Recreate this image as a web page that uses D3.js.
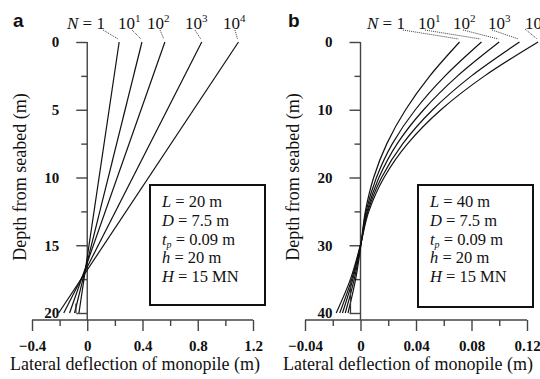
<!DOCTYPE html>
<html><head><meta charset="utf-8">
<script src="https://cdn.jsdelivr.net/npm/d3@7"></script>
<style>body{margin:0;background:#fff}svg{display:block}</style>
</head><body>
<script>
// ---------- data ----------
const cycleLabels = ["1", "1", "2", "3", "4"];          // exponent of 10 (first is "N = 1")
// Panel a (L = 20 m): rigid rotation, deflection at depth 0 and 20 m
const depthA = [0, 20];
const deflA = [
  [0.231, -0.060],
  [0.396, -0.092],
  [0.562, -0.128],
  [0.829, -0.170],
  [1.095, -0.207]
];
// Panel b (L = 40 m): flexible pile
const depthB = [0, 5, 10, 15, 20, 25, 30, 35, 40];
const deflB = [
  [0.0714, 0.0500, 0.0325, 0.0190, 0.0095, 0.0035, 0.0003, -0.0035, -0.0090],
  [0.0872, 0.0610, 0.0395, 0.0230, 0.0115, 0.0040, 0.0002, -0.0045, -0.0110],
  [0.1000, 0.0700, 0.0455, 0.0265, 0.0133, 0.0047, 0.0001, -0.0055, -0.0130],
  [0.1146, 0.0800, 0.0520, 0.0305, 0.0152, 0.0053, 0.0000, -0.0063, -0.0150],
  [0.1280, 0.0895, 0.0580, 0.0340, 0.0170, 0.0060, -0.0001, -0.0072, -0.0175]
];
// short vertical toe marks [deflection, depth from, depth to]
const toeA = [-0.082, 19.3, 20];
const toeB = [-0.0072, 35, 40];
const xTicksA = [-0.4, 0, 0.4, 0.8, 1.2];
const xMinorA = [-0.2, 0.2, 0.6, 1.0];
const yTicksA = [0, 5, 10, 15, 20];
const yMinorA = [2.5, 7.5, 12.5, 17.5];
const xTicksB = [-0.04, 0, 0.04, 0.08, 0.12];
const xMinorB = [-0.02, 0.02, 0.06, 0.10];
const yTicksB = [0, 10, 20, 30, 40];
const yMinorB = [5, 15, 25, 35];
const legendA = [["L"," = 20 m"],["D"," = 7.5 m"],["t"," = 0.09 m","p"],["h"," = 20 m"],["H"," = 15 MN"]];
const legendB = [["L"," = 40 m"],["D"," = 7.5 m"],["t"," = 0.09 m","p"],["h"," = 20 m"],["H"," = 15 MN"]];

// ---------- drawing ----------
const W = 540, H = 379;
const SERIF = "'Liberation Serif','Times New Roman',Times,serif";
const svg = d3.select("body").append("svg").attr("width", W).attr("height", H)
  .style("font-family", SERIF);

const AXIS_Y = 320;

function panel(cfg) {
  const x = d3.scaleLinear().domain(cfg.xDom).range(cfg.xRange);
  const y = d3.scaleLinear().domain(cfg.yDom).range([42, 313]);
  const g = svg.append("g");
  const x0 = x(0);

  // x axis
  const fmt = d => d === 0 ? "0" : d3.format("")(d);
  const gx = g.append("g").attr("transform", `translate(0,${AXIS_Y})`);
  gx.call(d3.axisBottom(x).tickValues(cfg.xMinor).tickSize(6).tickSizeOuter(0).tickFormat(""));
  gx.select(".domain").remove();
  const gx2 = g.append("g").attr("transform", `translate(0,${AXIS_Y})`);
  gx2.call(d3.axisBottom(x).tickValues(cfg.xTicks).tickSize(11).tickPadding(9).tickSizeOuter(0).tickFormat(fmt));
  gx2.select(".domain").remove();
  g.append("line").attr("x1", x(cfg.xDom[0])).attr("x2", x(cfg.xDom[1]))
    .attr("y1", AXIS_Y).attr("y2", AXIS_Y).attr("stroke", "#444").attr("stroke-width", 1.4);

  // y axis at x = 0
  const gy = g.append("g").attr("transform", `translate(${x0},0)`);
  gy.call(d3.axisLeft(y).tickValues(cfg.yMinor).tickSize(6).tickSizeOuter(0).tickFormat(""));
  gy.select(".domain").remove();
  const gy2 = g.append("g").attr("transform", `translate(${x0},0)`);
  gy2.call(d3.axisLeft(y).tickValues(cfg.yTicks).tickSize(11).tickPadding(17).tickSizeOuter(0));
  gy2.select(".domain").remove();
  g.append("line").attr("x1", x0).attr("x2", x0).attr("y1", y(cfg.yDom[0])).attr("y2", AXIS_Y)
    .attr("stroke", "#444").attr("stroke-width", 1.4);

  g.selectAll("g").attr("font-family", SERIF);
  g.selectAll(".tick line").attr("stroke", "#444").attr("stroke-width", 1.4);
  g.selectAll(".tick text").attr("font-family", SERIF)
    .attr("font-weight", "bold").attr("font-size", 15).attr("fill", "#111");

  // curves
  const line = d3.line().x(d => x(d[0])).y(d => y(d[1])).curve(cfg.curve);
  cfg.defl.forEach(row => {
    const pts = row.map((v, i) => [v, cfg.depth[i]]);
    g.append("path").attr("d", line(pts)).attr("fill", "none")
      .attr("stroke", "#111").attr("stroke-width", 1.2);
  });
  // toe mark
  const tm = cfg.toe;
  g.append("line").attr("x1", x(tm[0])).attr("x2", x(tm[0]))
    .attr("y1", y(tm[1])).attr("y2", y(tm[2]))
    .attr("stroke", "#333").attr("stroke-width", 1.2);

  // N labels with dotted leaders
  cfg.defl.forEach((row, i) => {
    const lx = cfg.labelX[i], ly = 29;
    const t = g.append("text").attr("x", lx).attr("y", ly).attr("font-size", 17).attr("fill", "#111");
    if (i === 0) {
      t.append("tspan").attr("font-style", "italic").text("N");
      t.append("tspan").text(" = 1");
    } else {
      t.append("tspan").text("10");
      t.append("tspan").attr("font-size", 11).attr("dy", -7).text(cycleLabels[i]);
    }
    const lp = cfg.leaderStart[i];
    g.append("line").attr("x1", lp[0]).attr("y1", lp[1])
      .attr("x2", x(row[0]) - 1).attr("y2", y(0) - 3)
      .attr("stroke", "#222").attr("stroke-width", 0.9).attr("stroke-dasharray", "1,1");
  });

  // panel letter
  svg.append("text").attr("x", cfg.letterX).attr("y", 27).text(cfg.letter)
    .attr("font-family", "'Liberation Sans',Arial,sans-serif").attr("font-weight", "bold")
    .attr("font-size", 19).attr("fill", "#111");

  // legend box
  const bx = cfg.box;
  g.append("rect").attr("x", bx[0]).attr("y", bx[1]).attr("width", bx[2]).attr("height", bx[3])
    .attr("fill", "#fff").attr("stroke", "#111").attr("stroke-width", 2);
  cfg.legend.forEach((r, i) => {
    const t = g.append("text").attr("x", bx[0] + 12).attr("y", bx[1] + 22 + i * 18.8)
      .attr("font-size", 16.5).attr("fill", "#111");
    t.append("tspan").attr("font-style", "italic").text(r[0]);
    if (r[2]) {
      t.append("tspan").attr("font-style", "italic").attr("font-size", 10).attr("dy", 3).text(r[2]);
      t.append("tspan").attr("dy", -3).text(r[1]);
    } else t.append("tspan").text(r[1]);
  });

  // axis titles
  g.append("text").attr("x", cfg.xTitleX).attr("y", 370).attr("text-anchor", "middle")
    .attr("font-size", 18).attr("fill", "#111").text("Lateral deflection of monopile (m)");
  g.append("text").attr("transform", `translate(${cfg.yTitleX},177) rotate(-90)`)
    .attr("text-anchor", "middle").attr("font-size", 18).attr("fill", "#111")
    .text("Depth from seabed (m)");
}

panel({
  xDom: [-0.4, 1.2], xRange: [32, 253], yDom: [0, 20],
  xTicks: xTicksA, xMinor: xMinorA, yTicks: yTicksA, yMinor: yMinorA,
  depth: depthA, defl: deflA, curve: d3.curveLinear, toe: toeA,
  labelX: [67, 118, 147, 185, 223],
  leaderStart: [[103, 30], [132, 30], [160, 30], [195, 30], [235, 30]],
  letter: "a", letterX: 13, box: [150, 185, 115, 120], legend: legendA,
  xTitleX: 135, yTitleX: 26
});
panel({
  xDom: [-0.04, 0.12], xRange: [305, 527], yDom: [0, 40],
  xTicks: xTicksB, xMinor: xMinorB, yTicks: yTicksB, yMinor: yMinorB,
  depth: depthB, defl: deflB, curve: d3.curveMonotoneY, toe: toeB,
  labelX: [367, 418, 453, 488, 525],
  leaderStart: [[403, 30], [425, 30], [463, 30], [492, 30], [525, 29]],
  letter: "b", letterX: 288, box: [418, 185, 115, 122], legend: legendB,
  xTitleX: 408, yTitleX: 299
});
</script>
</body></html>
